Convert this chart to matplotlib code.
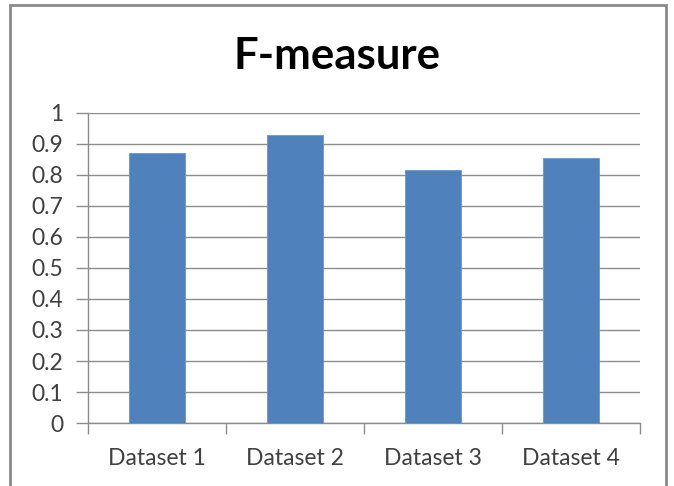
import matplotlib.pyplot as plt
from matplotlib.patches import Rectangle
import numpy as np

# F-measure per dataset
datasets = ['Dataset 1', 'Dataset 2', 'Dataset 3', 'Dataset 4']
f_measure = [0.87, 0.93, 0.815, 0.855]
y_ticks = [0, 0.1, 0.2, 0.3, 0.4, 0.5, 0.6, 0.7, 0.8, 0.9, 1]
y_tick_labels = ['0', '0.1', '0.2', '0.3', '0.4', '0.5', '0.6', '0.7', '0.8', '0.9', '1']

plt.rcParams['font.family'] = ['Lato', 'DejaVu Sans']
grid_color = '#8c8c8c'

fig = plt.figure(figsize=(6.74, 4.86), dpi=100)
ax = fig.add_axes([0.1306, 0.1296, 0.819, 0.638])

x = np.arange(len(datasets))
ax.bar(x, f_measure, width=0.4, color='#4F81BD', edgecolor='#6b96cc', linewidth=0.6, zorder=3)

ax.set_xlim(-0.5, len(datasets) - 0.5)
ax.set_ylim(0, 1)
ax.set_yticks(y_ticks)
ax.set_yticklabels(y_tick_labels, fontsize=16.5, color='#404040')
ax.yaxis.grid(True, color=grid_color, linewidth=1.0, zorder=0)

# category labels sit between the boundary tick marks
ax.set_xticks(x)
ax.set_xticklabels(datasets, fontsize=16.5, color='#404040')
ax.tick_params(axis='x', length=0, pad=18)
ax.set_xticks(np.arange(len(datasets) + 1) - 0.5, minor=True)
ax.tick_params(axis='x', which='minor', length=8, color=grid_color, width=1.0)
ax.tick_params(axis='y', length=9, color=grid_color, width=1.0, pad=9)

for side in ['top', 'right']:
    ax.spines[side].set_visible(False)
for side in ['left', 'bottom']:
    ax.spines[side].set_color(grid_color)
    ax.spines[side].set_linewidth(1.0)

# title centred on the whole chart, not the plot area
fig.text(0.5, 1 - 56 / 486, 'F-measure', fontsize=31.5, fontweight='bold',
         ha='center', va='center')

# chart area frame
fig.patches.append(Rectangle((10 / 674, -0.01), 656 / 674, 1 - 5 / 486 + 0.01,
                             transform=fig.transFigure, fill=False,
                             edgecolor='#8a8a8a', linewidth=2))

plt.savefig('out.png', dpi=100)
